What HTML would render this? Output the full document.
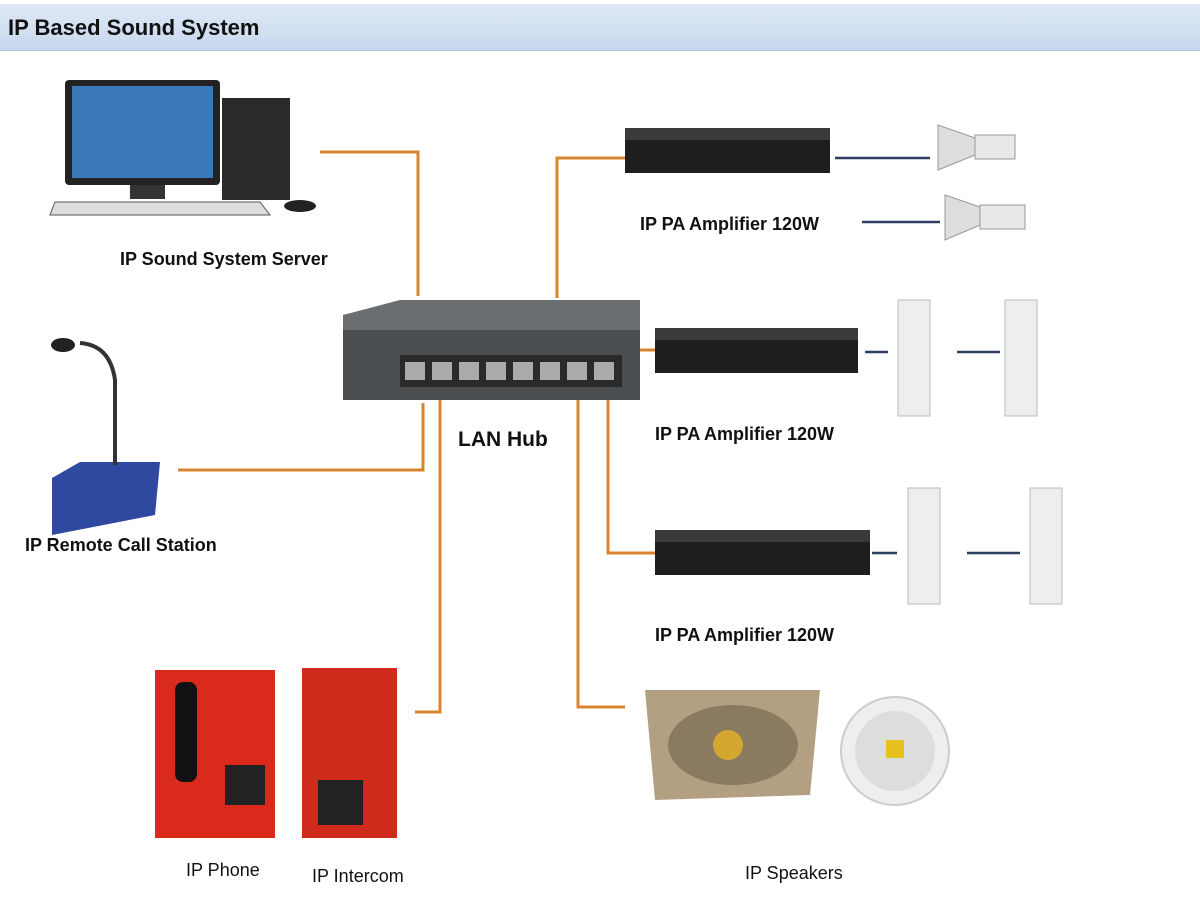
<!DOCTYPE html>
<html><head><meta charset="utf-8"><style>
body{margin:0;width:1200px;height:919px;background:#fff;position:relative;overflow:hidden;font-family:"Liberation Sans",sans-serif}
.a{position:absolute}
.t{position:absolute;font-weight:bold;font-size:18px;color:#111;white-space:nowrap}
.n{position:absolute;font-size:18px;color:#111;white-space:nowrap}
</style></head><body>
<div class="a" style="left:0;top:4px;width:1200px;height:46px;background:linear-gradient(#dfe9f5,#c7d8ee);border-bottom:1px solid #b0c4de"></div>
<div class="t" style="left:8px;top:15px;font-size:22px">IP Based Sound System</div>

<svg class="a" style="left:0;top:0" width="1200" height="919">
<g stroke="#d8842c" stroke-width="3" fill="none">
<polyline points="320,152 418,152 418,296"/>
<polyline points="557,298 557,158 625,158"/>
<polyline points="620,350 655,350"/>
<polyline points="423,403 423,470 178,470"/>
<polyline points="440,400 440,712 415,712"/>
<polyline points="578,395 578,707 625,707"/>
<polyline points="605,395 608,395 608,553 655,553"/>
</g>
<g stroke="#2d3e5e" stroke-width="2.5">
<line x1="835" y1="158" x2="930" y2="158"/><line x1="862" y1="222" x2="940" y2="222"/>
<line x1="865" y1="352" x2="888" y2="352"/><line x1="957" y1="352" x2="1000" y2="352"/>
<line x1="872" y1="553" x2="897" y2="553"/><line x1="967" y1="553" x2="1020" y2="553"/>
</g>
<!-- computer -->
<rect x="65" y="80" width="155" height="105" rx="4" fill="#222"/>
<rect x="72" y="86" width="141" height="92" fill="#3a78b8"/>
<rect x="130" y="185" width="35" height="14" fill="#333"/>
<rect x="222" y="98" width="68" height="102" fill="#2a2a2a"/>
<polygon points="55,202 260,202 270,215 50,215" fill="#ddd" stroke="#555"/>
<ellipse cx="300" cy="206" rx="16" ry="6" fill="#222"/>
<!-- hub -->
<polygon points="343,315 400,300 640,300 640,330 343,345" fill="#6b6e70"/>
<rect x="343" y="330" width="297" height="70" fill="#4b4e50"/>
<rect x="400" y="355" width="222" height="32" fill="#2a2a2a"/>
<g fill="#aaa"><rect x="405" y="362" width="20" height="18"/><rect x="432" y="362" width="20" height="18"/><rect x="459" y="362" width="20" height="18"/><rect x="486" y="362" width="20" height="18"/><rect x="513" y="362" width="20" height="18"/><rect x="540" y="362" width="20" height="18"/><rect x="567" y="362" width="20" height="18"/><rect x="594" y="362" width="20" height="18"/></g>
<!-- amps -->
<rect x="625" y="128" width="205" height="45" fill="#1e1e1e"/><rect x="625" y="128" width="205" height="12" fill="#3a3a3a"/>
<rect x="655" y="328" width="203" height="45" fill="#1e1e1e"/><rect x="655" y="328" width="203" height="12" fill="#3a3a3a"/>
<rect x="655" y="530" width="215" height="45" fill="#1e1e1e"/><rect x="655" y="530" width="215" height="12" fill="#3a3a3a"/>
<!-- horns -->
<polygon points="938,125 975,138 975,155 938,170" fill="#ddd" stroke="#999"/><rect x="975" y="135" width="40" height="24" fill="#e8e8e8" stroke="#999"/>
<polygon points="945,195 980,207 980,225 945,240" fill="#ddd" stroke="#999"/><rect x="980" y="205" width="45" height="24" fill="#e8e8e8" stroke="#999"/>
<!-- columns -->
<rect x="898" y="300" width="32" height="116" fill="#eee" stroke="#bbb"/>
<rect x="1005" y="300" width="32" height="116" fill="#eee" stroke="#bbb"/>
<rect x="908" y="488" width="32" height="116" fill="#eee" stroke="#bbb"/>
<rect x="1030" y="488" width="32" height="116" fill="#eee" stroke="#bbb"/>
<!-- mic station -->
<polygon points="52,478 80,462 160,462 155,515 52,535" fill="#2f48a0"/>
<path d="M115,465 L115,380 Q110,345 80,343" stroke="#333" stroke-width="4" fill="none"/>
<ellipse cx="63" cy="345" rx="12" ry="7" fill="#222"/>
<!-- phones -->
<rect x="155" y="670" width="120" height="168" fill="#d92a1c"/>
<rect x="302" y="668" width="95" height="170" fill="#d02a1c"/>
<rect x="175" y="682" width="22" height="100" rx="8" fill="#111"/>
<g fill="#222"><rect x="225" y="765" width="40" height="40"/><rect x="318" y="780" width="45" height="45"/></g>
<!-- ip speakers -->
<polygon points="645,690 820,690 810,795 655,800" fill="#b3a083"/>
<ellipse cx="733" cy="745" rx="65" ry="40" fill="#8a7a60"/>
<circle cx="728" cy="745" r="15" fill="#d4a830"/>
<circle cx="895" cy="751" r="54" fill="#eee" stroke="#ccc" stroke-width="2"/>
<circle cx="895" cy="751" r="40" fill="#ddd"/>
<rect x="886" y="740" width="18" height="18" fill="#e8c020"/>
</svg>

<div class="t" style="left:120px;top:249px">IP Sound System Server</div>
<div class="t" style="left:25px;top:535px">IP Remote Call Station</div>
<div class="t" style="left:458px;top:428px;font-size:21px">LAN Hub</div>
<div class="t" style="left:640px;top:214px">IP PA Amplifier 120W</div>
<div class="t" style="left:655px;top:424px">IP PA Amplifier 120W</div>
<div class="t" style="left:655px;top:625px">IP PA Amplifier 120W</div>
<div class="n" style="left:186px;top:860px">IP Phone</div>
<div class="n" style="left:312px;top:866px">IP Intercom</div>
<div class="n" style="left:745px;top:863px">IP Speakers</div>
</body></html>
